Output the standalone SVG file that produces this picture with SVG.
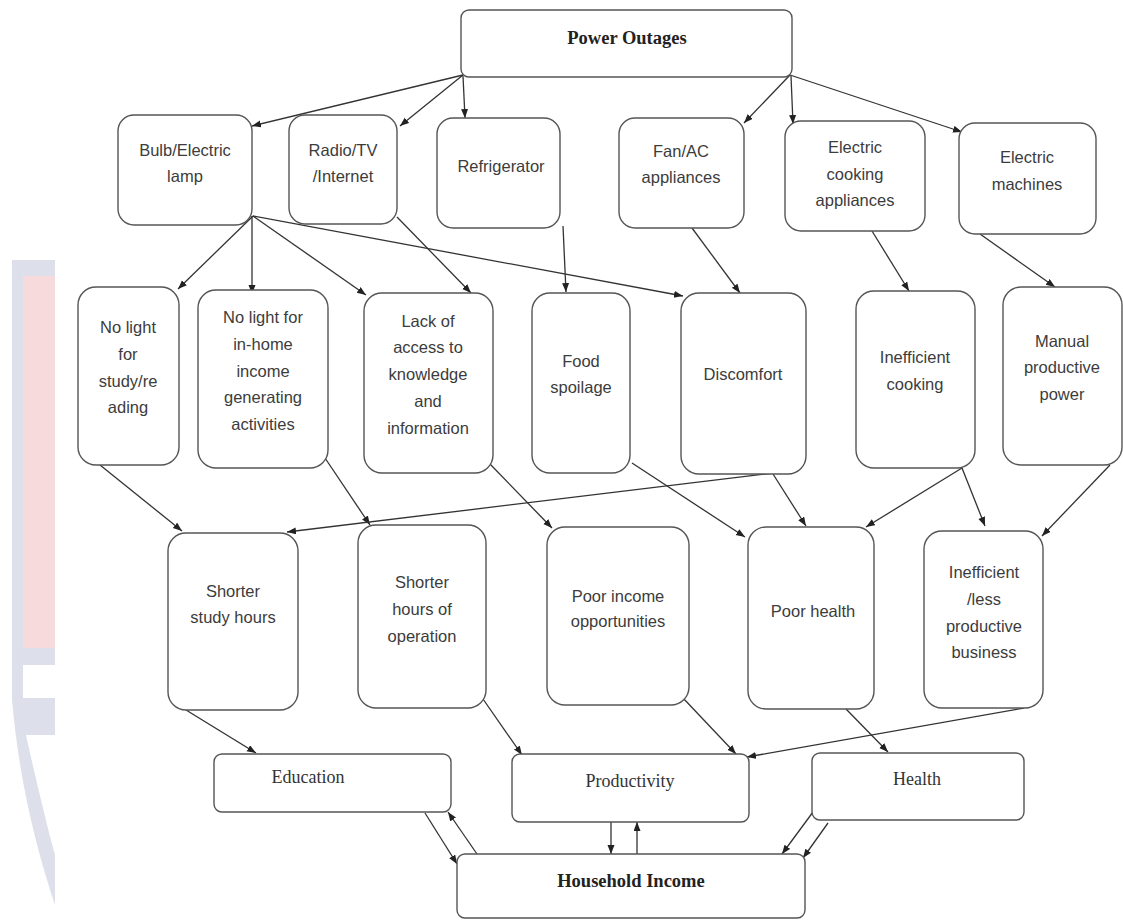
<svg xmlns="http://www.w3.org/2000/svg" width="1123" height="921" viewBox="0 0 1123 921">
<style>
.box{fill:#fff;stroke:#555;stroke-width:1.4}
.t{font-family:"Liberation Sans",Arial,sans-serif;font-size:16.5px;fill:#3c3c3c;text-anchor:middle}
.s{font-family:"Liberation Serif","Times New Roman",serif;font-size:18px;fill:#333;text-anchor:middle}
.b{font-family:"Liberation Serif","Times New Roman",serif;font-size:18.5px;font-weight:bold;fill:#222;text-anchor:middle}
.c{fill:none;stroke:#333;stroke-width:1.3;marker-end:url(#ah)}
</style>
<defs>
<marker id="ah" markerUnits="userSpaceOnUse" markerWidth="10" markerHeight="8" refX="9" refY="3.5" orient="auto">
<path d="M0,0 L9,3.5 L0,7 z" fill="#222"/>
</marker>
</defs>
<rect width="1123" height="921" fill="#fff"/>
<g id="watermark">
<path d="M12,260 L55,260 L55,905 C40,860 20,790 12,700 Z" fill="#dde0ea"/>
<rect x="23" y="276" width="32" height="372" fill="#f7dadb"/>
<rect x="23" y="665" width="32" height="33" fill="#fff"/>
<path d="M26,735 L55,735 L55,855 C48,830 36,780 26,735 Z" fill="#fff"/>
</g>
<g id="connectors">
<path class="c" d="M463,75 L252,126"/>
<path class="c" d="M463,75 L400,126"/>
<path class="c" d="M463,76 L465,118"/>
<path class="c" d="M790,75 L744,123"/>
<path class="c" d="M791,76 L793,124"/>
<path class="c" d="M790,75 L962,132"/>
<path class="c" d="M253,216 L178,289"/>
<path class="c" d="M252,216 L252,294"/>
<path class="c" d="M253,216 L366,295"/>
<path class="c" d="M253,216 L683,296"/>
<path class="c" d="M397,217 L471,293"/>
<path class="c" d="M563,226 L566,292"/>
<path class="c" d="M692,228 L740,293"/>
<path class="c" d="M872,231 L909,291"/>
<path class="c" d="M980,234 L1055,287"/>
<path class="c" d="M100,465 L182,531"/>
<path class="c" d="M325,458 L370,525"/>
<path class="c" d="M773,473 L287,532"/>
<path class="c" d="M489,463 L552,528"/>
<path class="c" d="M632,463 L745,537"/>
<path class="c" d="M773,474 L806,526"/>
<path class="c" d="M962,468 L866,527"/>
<path class="c" d="M962,468 L985,526"/>
<path class="c" d="M1110,465 L1042,536"/>
<path class="c" d="M186,710 L256,753"/>
<path class="c" d="M483,699 L522,755"/>
<path class="c" d="M683,698 L736,754"/>
<path class="c" d="M1024,708 L747,757"/>
<path class="c" d="M846,709 L888,752"/>
<path class="c" d="M425,813 L457,864"/>
<path class="c" d="M477,854 L448,812"/>
<path class="c" d="M611,822 L611,854"/>
<path class="c" d="M637,854 L637,822"/>
<path class="c" d="M813,812 L782,854"/>
<path class="c" d="M828,823 L803,858"/>
</g>
<g id="power-outages"><rect class="box" x="461" y="10" width="331" height="67" rx="8"/><text class="b" x="627" y="44">Power Outages</text></g>
<g id="bulb"><rect class="box" x="118" y="115" width="134" height="110" rx="16"/><text class="t" x="185" y="156">Bulb/Electric</text><text class="t" x="185" y="182">lamp</text></g>
<g id="radio"><rect class="box" x="289" y="115" width="108" height="109" rx="16"/><text class="t" x="343" y="156">Radio/TV</text><text class="t" x="343" y="182">/Internet</text></g>
<g id="refrigerator"><rect class="box" x="437" y="118" width="123" height="110" rx="16"/><text class="t" x="501" y="172">Refrigerator</text></g>
<g id="fan-ac"><rect class="box" x="619" y="118" width="125" height="110" rx="16"/><text class="t" x="681" y="157">Fan/AC</text><text class="t" x="681" y="183">appliances</text></g>
<g id="cooking-appliances"><rect class="box" x="785" y="121" width="140" height="110" rx="16"/><text class="t" x="855" y="153">Electric</text><text class="t" x="855" y="180">cooking</text><text class="t" x="855" y="206">appliances</text></g>
<g id="machines"><rect class="box" x="959" y="123" width="137" height="111" rx="16"/><text class="t" x="1027" y="163">Electric</text><text class="t" x="1027" y="190">machines</text></g>
<g id="no-light-study"><rect class="box" x="78" y="287" width="101" height="178" rx="18"/><text class="t" x="128" y="333">No light</text><text class="t" x="128" y="360">for</text><text class="t" x="128" y="387">study/re</text><text class="t" x="128" y="413">ading</text></g>
<g id="no-light-income"><rect class="box" x="198" y="290" width="130" height="178" rx="18"/><text class="t" x="263" y="323">No light for</text><text class="t" x="263" y="350">in-home</text><text class="t" x="263" y="377">income</text><text class="t" x="263" y="403">generating</text><text class="t" x="263" y="430">activities</text></g>
<g id="lack-access"><rect class="box" x="364" y="293" width="129" height="180" rx="18"/><text class="t" x="428" y="327">Lack of</text><text class="t" x="428" y="353">access to</text><text class="t" x="428" y="380">knowledge</text><text class="t" x="428" y="407">and</text><text class="t" x="428" y="434">information</text></g>
<g id="food-spoilage"><rect class="box" x="532" y="293" width="98" height="180" rx="18"/><text class="t" x="581" y="367">Food</text><text class="t" x="581" y="393">spoilage</text></g>
<g id="discomfort"><rect class="box" x="681" y="293" width="125" height="181" rx="18"/><text class="t" x="743" y="380">Discomfort</text></g>
<g id="inefficient-cooking"><rect class="box" x="856" y="291" width="119" height="177" rx="18"/><text class="t" x="915" y="363">Inefficient</text><text class="t" x="915" y="390">cooking</text></g>
<g id="manual-power"><rect class="box" x="1003" y="287" width="119" height="178" rx="18"/><text class="t" x="1062" y="347">Manual</text><text class="t" x="1062" y="373">productive</text><text class="t" x="1062" y="400">power</text></g>
<g id="shorter-study"><rect class="box" x="168" y="533" width="130" height="177" rx="18"/><text class="t" x="233" y="597">Shorter</text><text class="t" x="233" y="623">study hours</text></g>
<g id="shorter-operation"><rect class="box" x="358" y="525" width="128" height="183" rx="18"/><text class="t" x="422" y="588">Shorter</text><text class="t" x="422" y="615">hours of</text><text class="t" x="422" y="642">operation</text></g>
<g id="poor-income"><rect class="box" x="547" y="527" width="142" height="178" rx="18"/><text class="t" x="618" y="602">Poor income</text><text class="t" x="618" y="627">opportunities</text></g>
<g id="poor-health"><rect class="box" x="748" y="527" width="126" height="182" rx="18"/><text class="t" x="813" y="617">Poor health</text></g>
<g id="inefficient-business"><rect class="box" x="924" y="531" width="119" height="177" rx="18"/><text class="t" x="984" y="578">Inefficient</text><text class="t" x="984" y="605">/less</text><text class="t" x="984" y="632">productive</text><text class="t" x="984" y="658">business</text></g>
<g id="education"><rect class="box" x="214" y="754" width="237" height="58" rx="8"/><text class="s" x="308" y="783">Education</text></g>
<g id="productivity"><rect class="box" x="512" y="754" width="237" height="68" rx="8"/><text class="s" x="630" y="787">Productivity</text></g>
<g id="health"><rect class="box" x="812" y="753" width="212" height="67" rx="8"/><text class="s" x="917" y="785">Health</text></g>
<g id="household-income"><rect class="box" x="457" y="854" width="348" height="64" rx="8"/><text class="b" x="631" y="887">Household Income</text></g>
</svg>
